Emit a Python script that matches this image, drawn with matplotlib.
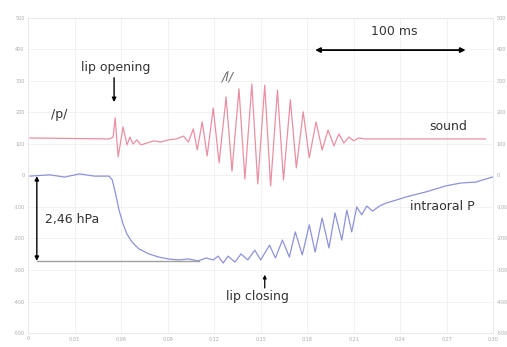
import matplotlib.pyplot as plt
import matplotlib as mpl

mpl.rc('font', family=['DejaVu Sans'])

# time in ms, amplitude in screen divisions
sound_t = [1.3, 52.3, 54.9, 56.2, 58.1, 61.3, 63.8, 65.7, 67.7, 70.2, 72.8, 76.6,
           81.1, 85.5, 90.6, 95.7, 100.2, 103.4, 106.6, 109.1, 112.3, 115.5, 119.4,
           123.2, 127.7, 131.5, 136.0, 139.8, 144.3, 148.1, 152.6, 156.4, 160.8,
           164.7, 169.1, 173.0, 177.4, 181.3, 185.7, 189.6, 193.4, 197.2, 200.4,
           203.6, 206.8, 210.0, 213.2, 217.0, 294.9]
sound_v = [6.19, 6.16, 6.22, 6.83, 5.59, 6.54, 5.97, 6.22, 6.00, 6.13, 5.97, 6.03,
           6.10, 6.06, 6.13, 6.16, 6.25, 6.06, 6.48, 5.81, 6.70, 5.62, 7.14,
           5.40, 7.49, 5.14, 7.75, 4.89, 7.90, 4.73, 7.87, 4.67, 7.71,
           4.86, 7.40, 5.24, 7.02, 5.56, 6.70, 5.81, 6.44, 5.94, 6.32,
           6.03, 6.22, 6.10, 6.19, 6.16, 6.16]

press_t = [1.3, 14.0, 23.6, 33.2, 42.8, 52.3, 54.3, 56.2, 58.7, 61.3, 63.8, 67.0,
           71.5, 77.9, 84.3, 90.6, 97.0, 103.4, 109.8, 114.9, 119.4, 122.6, 125.8,
           129.0, 133.4, 137.3, 141.7, 146.2, 150.0, 155.7, 159.5, 164.0, 168.5,
           172.3, 176.8, 181.3, 185.1, 189.6, 194.0, 197.9, 202.3, 205.5, 208.7,
           211.9, 215.1, 218.3, 222.1, 226.6, 231.1, 237.4, 243.8, 256.6, 269.4,
           278.9, 288.5, 299.4]
press_v = [4.98, 5.02, 4.95, 5.05, 4.98, 4.98, 4.86, 4.48, 3.90, 3.46, 3.14, 2.89,
           2.67, 2.51, 2.41, 2.35, 2.32, 2.35, 2.29, 2.38, 2.32, 2.44, 2.22,
           2.44, 2.25, 2.51, 2.32, 2.63, 2.32, 2.79, 2.38, 2.95, 2.41,
           3.21, 2.48, 3.43, 2.57, 3.65, 2.70, 3.81, 2.95, 3.90, 3.21,
           4.00, 3.75, 4.03, 3.87, 4.03, 4.13, 4.22, 4.32, 4.48, 4.67,
           4.76, 4.79, 4.95]

x_ticks = [0, 30, 60, 90, 120, 150, 180, 210, 240, 270, 300]
x_labels = ['0', '0,03', '0,06', '0,09', '0,12', '0,15', '0,18', '0,21', '0,24', '0,27', '0,30']
y_ticks = [0, 1, 2, 3, 4, 5, 6, 7, 8, 9, 10]
y_labels = ['-500', '-400', '-300', '-200', '-100', '0', '100', '200', '300', '400', '500']

p_high = 4.98
p_low = 2.29

fig = plt.figure(figsize=(5.07, 3.47), dpi=100)
ax = fig.add_axes([0.0552, 0.0403, 0.918, 0.908])

ax.plot(sound_t, sound_v, color='#e890a2', lw=0.9, solid_joinstyle='round')
ax.plot(press_t, press_v, color='#8e92d8', lw=0.9, solid_joinstyle='round')

ax.set_xlim(0, 300)
ax.set_ylim(0, 10)
ax.set_xticks(x_ticks)
ax.set_xticklabels(x_labels)
ax.set_yticks(y_ticks)
ax.set_yticklabels(y_labels)
ax.tick_params(labelsize=3.5, labelcolor='#aaaaaa', length=0, pad=2.5,
               labelright=True)
ax.grid(color='#f0f0f0', linewidth=0.6)
for s in ax.spines.values():
    s.set_color('#e6e6e6')
    s.set_linewidth(0.6)

txt = dict(fontsize=9, color='#333333')

# pressure drop marker
ax.plot([5.7, 110], [p_low, p_low], color='#a0a0a0', lw=1.0)
ax.annotate('', xy=(5.7, p_high), xytext=(5.7, p_low),
            arrowprops=dict(arrowstyle='<|-|>', color='black', lw=1.0,
                            mutation_scale=6, shrinkA=0, shrinkB=0))
ax.text(10.9, 3.59, '2,46 hPa', ha='left', va='center', **txt)

# lip opening
ax.text(56.8, 8.44, 'lip opening', ha='center', va='center', **txt)
ax.annotate('', xy=(55.5, 7.33), xytext=(55.5, 8.10),
            arrowprops=dict(arrowstyle='-|>', color='black', lw=1.0,
                            mutation_scale=6, shrinkA=0, shrinkB=0))

ax.text(20.4, 6.92, '/p/', ha='center', va='center', **txt)
ax.text(128.9, 8.13, '/l/', ha='center', va='center', fontsize=9,
        color='#666666', style='italic')
ax.text(270.6, 6.57, 'sound', ha='center', va='center', **txt)

# time scale
ax.annotate('', xy=(185.1, 8.98), xytext=(282.1, 8.98),
            arrowprops=dict(arrowstyle='<|-|>', color='black', lw=1.3,
                            mutation_scale=7, shrinkA=0, shrinkB=0))
ax.text(236, 9.56, '100 ms', ha='center', va='center', **txt)

ax.text(266.8, 4.0, 'intraoral P', ha='center', va='center', **txt)

# lip closing
ax.text(148.1, 1.17, 'lip closing', ha='center', va='center', **txt)
ax.annotate('', xy=(152.6, 1.85), xytext=(152.6, 1.43),
            arrowprops=dict(arrowstyle='-|>', color='black', lw=0.9,
                            mutation_scale=5, shrinkA=0, shrinkB=0))

plt.savefig('out.png', dpi=100)
